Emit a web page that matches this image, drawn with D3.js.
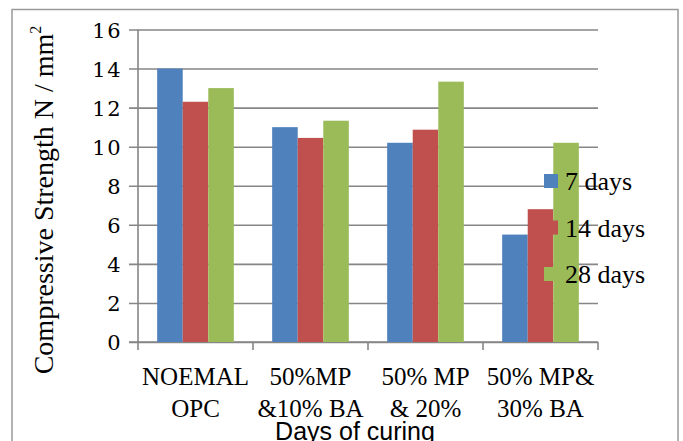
<!DOCTYPE html>
<html>
<head>
<meta charset="utf-8">
<script src="https://cdn.jsdelivr.net/npm/d3@7"></script>
<style>
  html, body { margin: 0; padding: 0; background: #fff; }
  svg { display: block; }
</style>
</head>
<body>
<svg id="chart" width="683" height="441"></svg>
<script>
// Mix categories along the x axis
const categories = [
  ["NOEMAL", "OPC"],
  ["50%MP", "&10% BA"],
  ["50% MP", "& 20%"],
  ["50% MP&", "30% BA"]
];
const categoryKeys = categories.map(d => d.join(" "));

// Curing ages (series)
const seriesNames = ["7 days", "14 days", "28 days"];

// Compressive strength (N/mm²) per mix, one array per curing age
const days7  = [14.0, 11.0, 10.2, 5.5];
const days14 = [12.3, 10.45, 10.87, 6.8];
const days28 = [13.0, 11.33, 13.33, 10.2];
const seriesValues = [days7, days14, days28];

const yTicks = [0, 2, 4, 6, 8, 10, 12, 14, 16];
const colors = ["#4F81BD", "#C0504D", "#9BBB59"];

const svg = d3.select("#chart");
const plot = { left: 138, right: 598, top: 29.5, bottom: 342 };
const gridColor = "#868686";
const serif = "'Liberation Serif', 'Times New Roman', serif";

// outer chart frame
svg.append("rect")
  .attr("x", 12).attr("y", 9.5)
  .attr("width", 666).attr("height", 460)
  .attr("fill", "none")
  .attr("stroke", "#9a9a9a")
  .attr("stroke-width", 1.5);

const y = d3.scaleLinear().domain([0, 16]).range([plot.bottom, plot.top]);
const x0 = d3.scaleBand().domain(categoryKeys).range([plot.left, plot.right]).padding(0);
const x1 = d3.scaleBand().domain(seriesNames).range([0, x0.bandwidth()])
  .paddingInner(0).paddingOuter(0.75);

// horizontal gridlines + y axis
const yAxis = d3.axisLeft(y).tickValues(yTicks)
  .tickSize(-(plot.right - plot.left)).tickSizeOuter(0).tickPadding(16)
  .tickFormat(d3.format("d"));
const gy = svg.append("g").attr("transform", `translate(${plot.left},0)`).call(yAxis);
gy.select(".domain").remove();
gy.selectAll(".tick line")
  .attr("x1", -9)
  .attr("stroke", gridColor).attr("stroke-width", 1.6);
gy.selectAll(".tick text")
  .attr("font-family", "'DejaVu Serif', serif")
  .attr("font-size", 21)
  .attr("letter-spacing", 1.5)
  .attr("fill", "#000")
  .attr("dy", "0.36em");

svg.append("line")
  .attr("x1", plot.left).attr("x2", plot.left)
  .attr("y1", plot.top).attr("y2", plot.bottom)
  .attr("stroke", gridColor).attr("stroke-width", 1.6);

// x axis with category boundary ticks
const boundaries = categoryKeys.map(k => x0(k)).concat([plot.right]);
svg.append("line")
  .attr("x1", plot.left - 9).attr("x2", plot.right)
  .attr("y1", plot.bottom).attr("y2", plot.bottom)
  .attr("stroke", gridColor).attr("stroke-width", 1.6);
svg.append("g").selectAll("line").data(boundaries).join("line")
  .attr("x1", d => d).attr("x2", d => d)
  .attr("y1", plot.bottom).attr("y2", plot.bottom + 8)
  .attr("stroke", gridColor).attr("stroke-width", 1.6);

// bars
const groups = svg.append("g").selectAll("g").data(categoryKeys).join("g")
  .attr("transform", k => `translate(${x0(k)},0)`);
groups.selectAll("rect")
  .data((k, i) => seriesNames.map((s, j) => ({ s, j, v: seriesValues[j][i] })))
  .join("rect")
  .attr("x", d => x1(d.s))
  .attr("width", x1.bandwidth())
  .attr("y", d => y(d.v))
  .attr("height", d => y(0) - y(d.v))
  .attr("fill", d => colors[d.j]);

// category labels (two lines)
const catLabels = svg.append("g").selectAll("text").data(categories).join("text")
  .attr("x", (d, i) => x0(categoryKeys[i]) + x0.bandwidth() / 2)
  .attr("y", 385)
  .attr("text-anchor", "middle")
  .attr("font-family", serif)
  .attr("font-size", 25)
  .attr("fill", "#000");
catLabels.selectAll("tspan").data(d => d).join("tspan")
  .attr("x", function () { return this.parentNode.getAttribute("x"); })
  .attr("dy", (d, i) => i === 0 ? 0 : 32)
  .text(d => d);

// x axis title
svg.append("text")
  .attr("x", 355).attr("y", 440)
  .attr("text-anchor", "middle")
  .attr("font-family", "'Liberation Sans', Arial, sans-serif")
  .attr("font-size", 25)
  .attr("fill", "#000")
  .text("Days of curing");

// y axis title
const yTitle = svg.append("text")
  .attr("transform", "translate(53,200) rotate(-90)")
  .attr("text-anchor", "middle")
  .attr("font-family", serif)
  .attr("font-size", 28)
  .attr("fill", "#000");
yTitle.append("tspan").text("Compressive Strength N / mm");
yTitle.append("tspan").attr("font-size", 16).attr("dy", -12).text("2");

// legend
const legend = svg.append("g").selectAll("g").data(seriesNames).join("g")
  .attr("transform", (d, i) => `translate(544,${181 + i * 46.5})`);
legend.append("rect")
  .attr("x", 0).attr("y", -7).attr("width", 14).attr("height", 14)
  .attr("fill", (d, i) => colors[i]);
legend.append("text")
  .attr("x", 21).attr("y", 9)
  .attr("font-family", serif)
  .attr("font-size", 26)
  .attr("fill", "#000")
  .text(d => d);
</script>
</body>
</html>
